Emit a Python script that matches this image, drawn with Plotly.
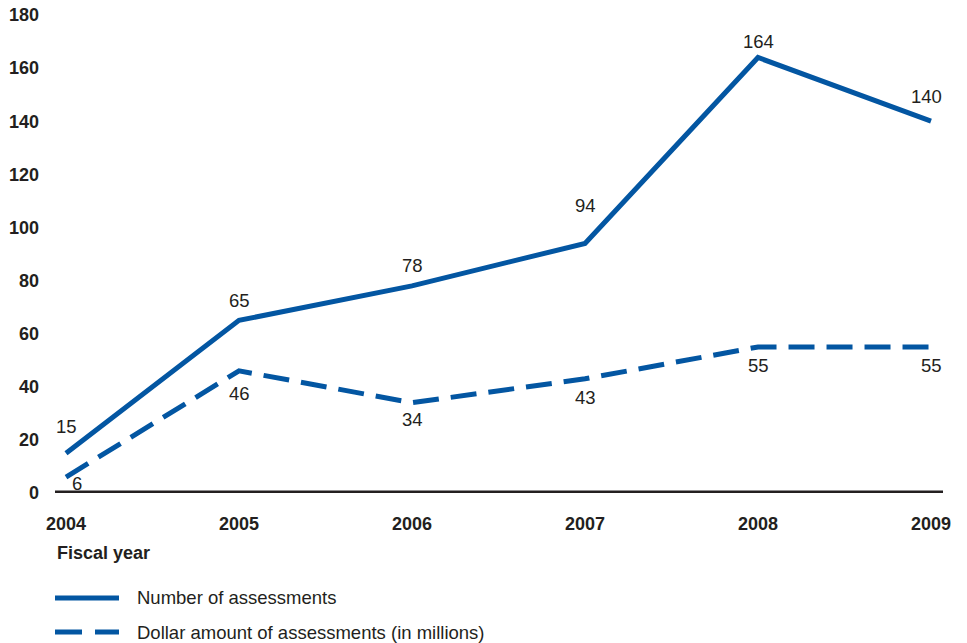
import plotly.graph_objects as go

# Fiscal years and the two series
years = [2004, 2005, 2006, 2007, 2008, 2009]
num_assessments = [15, 65, 78, 94, 164, 140]
dollar_assessments = [6, 46, 34, 43, 55, 55]
y_ticks = [0, 20, 40, 60, 80, 100, 120, 140, 160, 180]

# label placement relative to each point: (x shift px, y shift px)
num_label_shift = [(0, 27), (0, 20), (0, 20), (0, 38), (0, 16), (-5, 25)]
dollar_label_shift = [(11, -6), (0, -23), (0, -17), (0, -19), (0, -19), (0, -19)]

BLUE = "#0356a2"
INK = "#231f20"
FONT = "Liberation Sans, Arial, sans-serif"
FS = 18      # bold axis text
FS_REG = 18.5  # regular labels and legend text

fig = go.Figure()
fig.add_trace(go.Scatter(x=years, y=num_assessments, mode="lines",
                         line=dict(color=BLUE, width=5),
                         name="Number of assessments", showlegend=False))
fig.add_trace(go.Scatter(x=years, y=dollar_assessments, mode="lines",
                         line=dict(color=BLUE, width=5, dash="26px,12px"),
                         name="Dollar amount of assessments (in millions)",
                         showlegend=False))

annotations = []
for xv, yv, (dx, dy) in zip(years, num_assessments, num_label_shift):
    annotations.append(dict(x=xv, y=yv, xref="x", yref="y", text=str(yv),
                            showarrow=False, xshift=dx, yshift=dy,
                            font=dict(family=FONT, size=FS_REG, color=INK)))
for xv, yv, (dx, dy) in zip(years, dollar_assessments, dollar_label_shift):
    annotations.append(dict(x=xv, y=yv, xref="x", yref="y", text=str(yv),
                            showarrow=False, xshift=dx, yshift=dy,
                            font=dict(family=FONT, size=FS_REG, color=INK)))

# axis title and legend entries (paper coords relative to the plot area)
TOP, BOTTOM, LEFT, RIGHT = 15, 150, 55, 24
PLOT_H = 643 - TOP - BOTTOM
PLOT_W = 967 - LEFT - RIGHT


def py(pixel_y):
    return (643 - BOTTOM - pixel_y) / PLOT_H


annotations.append(dict(x=0, y=py(553), xref="paper", yref="paper",
                        text="<b>Fiscal year</b>", showarrow=False,
                        xanchor="left", yanchor="middle",
                        font=dict(family=FONT, size=FS, color=INK)))
annotations.append(dict(x=80 / PLOT_W, y=py(598), xref="paper", yref="paper",
                        text="Number of assessments", showarrow=False,
                        xanchor="left", yanchor="middle",
                        font=dict(family=FONT, size=FS_REG, color=INK)))
annotations.append(dict(x=80 / PLOT_W, y=py(632), xref="paper", yref="paper",
                        text="Dollar amount of assessments (in millions)",
                        showarrow=False, xanchor="left", yanchor="middle",
                        font=dict(family=FONT, size=FS_REG, color=INK)))

shapes = [
    # heavy baseline at zero
    dict(type="line", xref="paper", yref="y", x0=0, x1=1, y0=0, y1=0,
         line=dict(color=INK, width=5)),
    # legend swatches
    dict(type="line", xref="paper", yref="paper", x0=0, x1=64 / PLOT_W,
         y0=py(598), y1=py(598), line=dict(color=BLUE, width=5)),
    dict(type="line", xref="paper", yref="paper", x0=0, x1=64 / PLOT_W,
         y0=py(632), y1=py(632), line=dict(color=BLUE, width=5, dash="27px,13px")),
]

fig.update_layout(
    width=967, height=643,
    margin=dict(l=LEFT, r=RIGHT, t=TOP, b=BOTTOM),
    paper_bgcolor="white", plot_bgcolor="white",
    showlegend=False,
    annotations=annotations, shapes=shapes,
    xaxis=dict(range=[2004 - 11 / 173, 2009 + 12 / 173],
               tickvals=years, ticktext=[f"<b>{y}</b>" for y in years],
               showgrid=False, zeroline=False, showline=False,
               ticks="", ticklabelstandoff=18, automargin=False,
               tickfont=dict(family=FONT, size=FS, color=INK)),
    yaxis=dict(range=[0, 180], tickvals=y_ticks,
               ticktext=[f"<b>{v}</b>" for v in y_ticks],
               showgrid=False, zeroline=False, showline=False,
               ticks="", ticklabelstandoff=15, automargin=False,
               tickfont=dict(family=FONT, size=FS, color=INK)),
)

fig.write_html("out.html")
